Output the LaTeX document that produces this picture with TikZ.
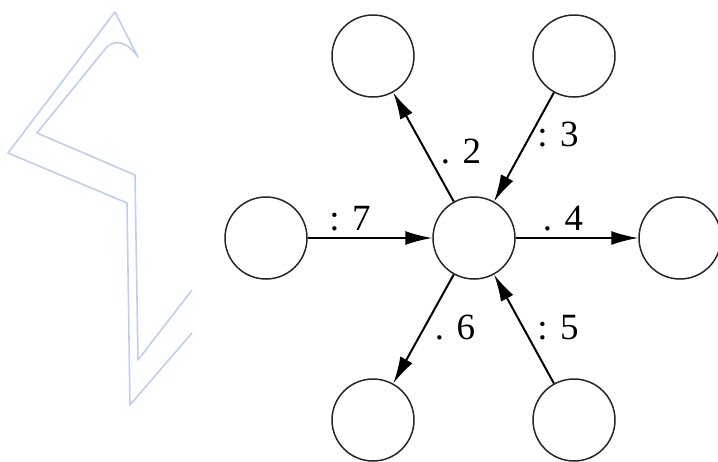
\documentclass[tikz,border=0pt]{standalone}
\usepackage{fontspec}
\setmainfont{Liberation Serif}
\usetikzlibrary{arrows.meta}
\definecolor{wm}{RGB}{190,207,236}
\tikzset{
  vtx/.style={circle, draw=black!85, line width=1.5pt, minimum size=82pt, inner sep=0pt},
  edge/.style={line width=2pt, -{Latex[length=27pt,width=14pt]}},
  lbl/.style={font=\fontsize{37}{42}\selectfont, inner sep=0pt},
}
\begin{document}
\begin{tikzpicture}[x=1pt,y=-1pt]
\useasboundingbox (0,0) rectangle (718,461);
\clip (0,0) rectangle (718,461);
% watermark
\draw[wm, line width=1.6pt, line join=round]
  (192,333) -- (130,405) -- (127,203) -- (8,153) -- (115,12) -- (138,57)
  .. controls (130,46) and (118,36) .. (106,48)
  -- (37,133) -- (135,175) -- (138,360) -- (192,290);
% nodes
\node[vtx] (c)  at (474,238) {};
\node[vtx] (tl) at (373,56)  {};
\node[vtx] (tr) at (574,56)  {};
\node[vtx] (l)  at (266,238) {};
\node[vtx] (r)  at (680,238) {};
\node[vtx] (bl) at (373,420) {};
\node[vtx] (br) at (574,420) {};
% edges
\draw[edge] (c)  -- (tl);
\draw[edge] (tr) -- (c);
\draw[edge] (l)  -- (c);
\draw[edge] (c)  -- (r);
\draw[edge] (c)  -- (bl);
\draw[edge] (br) -- (c);
% labels
\node[lbl] (l2) at (461,152) {. 2};
\node[lbl] (l3) at (558,135) {: 3};
\node[lbl] (l7) at (350,219) {: 7};
\node[lbl] (l4) at (563,219) {. 4};
\node[lbl] (l6) at (455,328) {. 6};
\node[lbl] (l5) at (558,328) {: 5};
\end{tikzpicture}
\end{document}
